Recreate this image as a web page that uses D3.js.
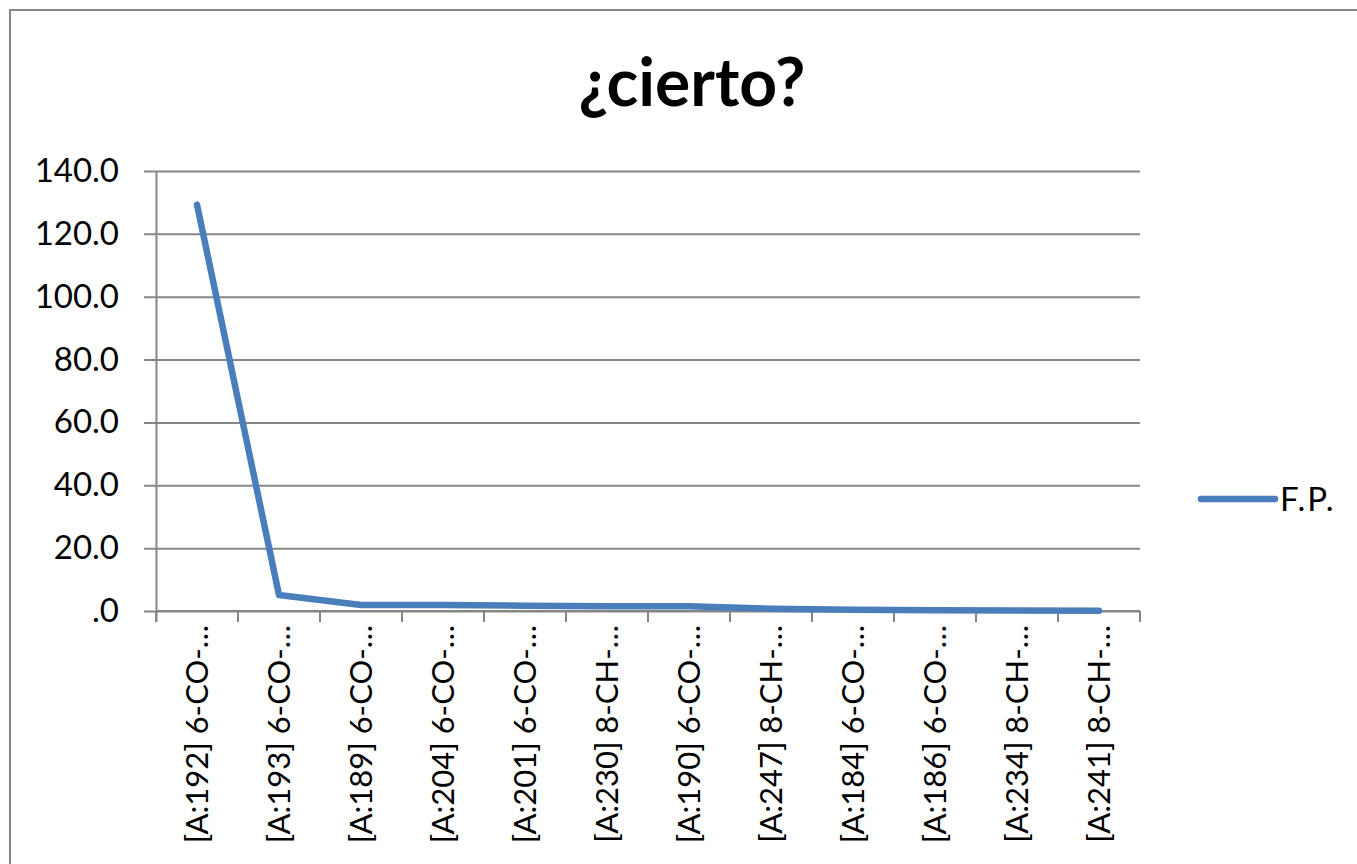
<!DOCTYPE html>
<html>
<head>
<meta charset="utf-8">
<script src="https://cdn.jsdelivr.net/npm/d3@7"></script>
<style>
  body { margin: 0; background: #fff; }
  svg { display: block; font-family: Lato, "Open Sans", sans-serif; }
</style>
</head>
<body>
<svg id="chart" width="1357" height="864"></svg>
<script>
const title = "¿cierto?";
const seriesName = "F.P.";
const categories = [
  "[A:192] 6-CO-…", "[A:193] 6-CO-…", "[A:189] 6-CO-…", "[A:204] 6-CO-…",
  "[A:201] 6-CO-…", "[A:230] 8-CH-…", "[A:190] 6-CO-…", "[A:247] 8-CH-…",
  "[A:184] 6-CO-…", "[A:186] 6-CO-…", "[A:234] 8-CH-…", "[A:241] 8-CH-…"
];
const values = [129.3, 5.1, 1.9, 1.9, 1.7, 1.5, 1.5, 0.7, 0.4, 0.2, 0.15, 0.1];
const yTicks = [0, 20, 40, 60, 80, 100, 120, 140];

const width = 1357, height = 864;
const margin = {top: 171, right: 217, bottom: 253, left: 156};
const blue = "#4a7ebb";
const grid = "#868686";

const svg = d3.select("#chart");

// outer chart border
svg.append("rect")
    .attr("x", 10).attr("y", 10)
    .attr("width", width + 20).attr("height", height + 20)
    .attr("fill", "none")
    .attr("stroke", grid)
    .attr("stroke-width", 2);

const x = d3.scaleBand()
    .domain(categories)
    .range([margin.left, width - margin.right]);

const y = d3.scaleLinear()
    .domain([0, 140])
    .range([height - margin.bottom, margin.top]);

// gridlines + y axis
svg.append("g")
    .attr("transform", `translate(${margin.left},0)`)
    .call(d3.axisLeft(y).tickValues(yTicks).tickSize(12).tickPadding(25)
      .tickFormat(d => d === 0 ? ".0" : d3.format(".1f")(d)))
    .call(g => g.select(".domain").attr("stroke", grid).attr("stroke-width", 2)
      .attr("d", `M0.5,${y(140)}V${y(0) + 11}`))
    .call(g => g.selectAll(".tick line").attr("stroke", grid).attr("stroke-width", 2)
      .attr("x2", width - margin.right - margin.left).attr("x1", -12))
    .call(g => g.selectAll(".tick text").attr("fill", "#000")
      .attr("font-size", 33).attr("font-family", "Lato, 'Open Sans', sans-serif"));

// x axis
const xAxis = svg.append("g")
    .attr("transform", `translate(0,${y(0)})`);

xAxis.append("path")
    .attr("stroke", grid).attr("stroke-width", 2).attr("fill", "none")
    .attr("d", `M${margin.left},0H${width - margin.right}`);

const edges = categories.map(c => x(c)).concat([x(categories[categories.length - 1]) + x.bandwidth()]);
xAxis.selectAll("line.tk")
  .data(edges)
  .join("line")
    .attr("class", "tk")
    .attr("x1", d => d).attr("x2", d => d)
    .attr("y1", 0).attr("y2", 11)
    .attr("stroke", grid).attr("stroke-width", 2);

xAxis.selectAll("text")
  .data(categories)
  .join("text")
    .attr("transform", d => `translate(${x(d) + x.bandwidth() / 2 + 11},14) rotate(-90)`)
    .attr("text-anchor", "end")
    .attr("font-size", 31)
    .attr("fill", "#000")
    .text(d => d);

// line
const line = d3.line()
    .x((d, i) => x(categories[i]) + x.bandwidth() / 2)
    .y(d => y(d));

svg.append("path")
    .datum(values)
    .attr("fill", "none")
    .attr("stroke", blue)
    .attr("stroke-width", 6.5)
    .attr("stroke-linejoin", "round")
    .attr("stroke-linecap", "round")
    .attr("d", line);

// title
svg.append("text")
    .attr("x", 692).attr("y", 106)
    .attr("text-anchor", "middle")
    .attr("font-size", 66)
    .attr("font-weight", "bold")
    .attr("fill", "#000")
    .text(title);

// legend
const legend = svg.append("g").attr("transform", "translate(1201,499)");
legend.append("line")
    .attr("x1", 0).attr("x2", 74)
    .attr("stroke", blue).attr("stroke-width", 6.5)
    .attr("stroke-linecap", "round");
legend.append("text")
    .attr("x", 79).attr("y", 12)
    .attr("font-size", 33)
    .attr("letter-spacing", 2)
    .attr("fill", "#000")
    .text(seriesName);
</script>
</body>
</html>
